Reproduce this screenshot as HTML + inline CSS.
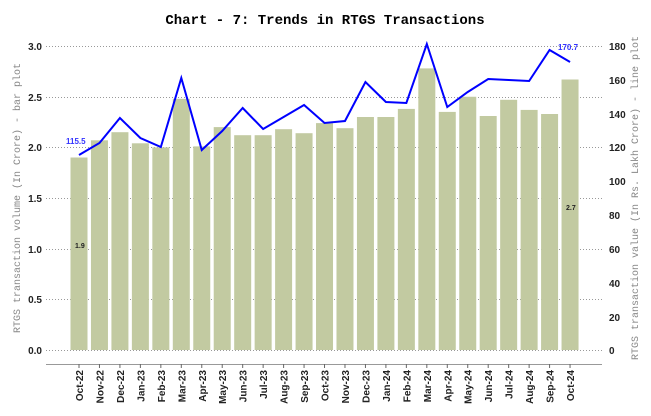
<!DOCTYPE html>
<html><head><style>body{margin:0;background:#fff}svg{display:block}</style></head><body>
<svg width="651" height="416" xmlns="http://www.w3.org/2000/svg" font-family="Liberation Sans, sans-serif">
<rect width="651" height="416" fill="#fff"/>
<text x="325" y="24" text-anchor="middle" font-family="Liberation Mono, monospace" font-weight="bold" font-size="14">Chart - 7: Trends in RTGS Transactions</text>
<g stroke="#999" stroke-dasharray="1,2" stroke-width="1">
<line x1="46" x2="602" y1="46.5" y2="46.5"/><line x1="46" x2="602" y1="97.5" y2="97.5"/><line x1="46" x2="602" y1="147.5" y2="147.5"/><line x1="46" x2="602" y1="198.5" y2="198.5"/><line x1="46" x2="602" y1="249.5" y2="249.5"/><line x1="46" x2="602" y1="299.5" y2="299.5"/><line x1="46" x2="602" y1="350.5" y2="350.5"/>
</g>
<g fill="#c2caa1">
<rect x="70.5" y="157.5" width="17" height="192.5"/>
<rect x="90.96" y="140.3" width="17" height="209.7"/>
<rect x="111.42" y="132.2" width="17" height="217.8"/>
<rect x="131.88" y="143.3" width="17" height="206.7"/>
<rect x="152.34" y="147.4" width="17" height="202.6"/>
<rect x="172.8" y="98.8" width="17" height="251.2"/>
<rect x="193.26" y="146.4" width="17" height="203.6"/>
<rect x="213.72" y="127.1" width="17" height="222.9"/>
<rect x="234.18" y="135.2" width="17" height="214.8"/>
<rect x="254.64" y="135.2" width="17" height="214.8"/>
<rect x="275.1" y="129.2" width="17" height="220.8"/>
<rect x="295.56" y="133.2" width="17" height="216.8"/>
<rect x="316.02" y="123.1" width="17" height="226.9"/>
<rect x="336.48" y="128.2" width="17" height="221.8"/>
<rect x="356.94" y="117" width="17" height="233"/>
<rect x="377.4" y="117" width="17" height="233"/>
<rect x="397.86" y="108.9" width="17" height="241.1"/>
<rect x="418.32" y="68.4" width="17" height="281.6"/>
<rect x="438.78" y="111.9" width="17" height="238.1"/>
<rect x="459.24" y="96.75" width="17" height="253.25"/>
<rect x="479.7" y="116" width="17" height="234"/>
<rect x="500.16" y="99.8" width="17" height="250.2"/>
<rect x="520.62" y="109.9" width="17" height="240.1"/>
<rect x="541.08" y="114" width="17" height="236"/>
<rect x="561.54" y="79.5" width="17" height="270.5"/>
</g>
<g font-size="10" font-weight="bold" fill="#222" text-anchor="end">
<text x="42" y="50">3.0</text><text x="42" y="101">2.5</text><text x="42" y="151">2.0</text><text x="42" y="202">1.5</text><text x="42" y="253">1.0</text><text x="42" y="303">0.5</text><text x="42" y="354">0.0</text>
</g>
<g font-size="10" font-weight="bold" fill="#222">
<text x="609" y="50">180</text><text x="609" y="84">160</text><text x="609" y="118">140</text><text x="609" y="151">120</text><text x="609" y="185">100</text><text x="609" y="219">80</text><text x="609" y="253">60</text><text x="609" y="287">40</text><text x="609" y="321">20</text><text x="609" y="354">0</text>
</g>
<text transform="translate(20,198) rotate(-90)" text-anchor="middle" font-family="Liberation Mono, monospace" font-size="10" fill="#888">RTGS transaction volume (In Crore) - bar plot</text>
<text transform="translate(638,198) rotate(-90)" text-anchor="middle" font-family="Liberation Mono, monospace" font-size="10" fill="#888">RTGS transaction value (In Rs. Lakh Crore) - line plot</text>
<line x1="46" x2="602" y1="364.5" y2="364.5" stroke="#999"/>
<polyline fill="none" stroke="#0000ff" stroke-width="2" points="79,155 99.46,143 119.92,118 140.38,138 160.84,147 181.3,78 201.76,150 222.22,131 242.68,108 263.14,129 283.6,117 304.06,105 324.52,123 344.98,121 365.44,82 385.9,102 406.36,103 426.82,44 447.28,107 467.74,92 488.2,79 508.66,80 529.12,81 549.58,50 570.04,62"/>
<g id="xl" font-size="10" font-weight="bold" fill="#222"></g>
<text x="66" y="144" font-size="8" font-weight="bold" fill="#3333ff">115.5</text>
<text x="558" y="50" font-size="8" font-weight="bold" fill="#3333ff">170.7</text>
<text x="75" y="248" font-size="7" font-weight="bold" fill="#222">1.9</text>
<text x="566" y="210" font-size="7" font-weight="bold" fill="#222">2.7</text>
<script>
var m=["Oct-22","Nov-22","Dec-22","Jan-23","Feb-23","Mar-23","Apr-23","May-23","Jun-23","Jul-23","Aug-23","Sep-23","Oct-23","Nov-23","Dec-23","Jan-24","Feb-24","Mar-24","Apr-24","May-24","Jun-24","Jul-24","Aug-24","Sep-24","Oct-24"];
var ns="http://www.w3.org/2000/svg",xl=document.getElementById("xl");
for(var i=0;i<25;i++){var cx=79+i*20.46;
var t=document.createElementNS(ns,"text");t.setAttribute("transform","translate("+(cx+4)+",370) rotate(-90)");t.setAttribute("text-anchor","end");t.textContent=m[i];xl.appendChild(t);
var tk=document.createElementNS(ns,"line");tk.setAttribute("x1",cx);tk.setAttribute("x2",cx);tk.setAttribute("y1",364);tk.setAttribute("y2",368);tk.setAttribute("stroke","#666");xl.appendChild(tk);}
</script>
</svg>
</body></html>
